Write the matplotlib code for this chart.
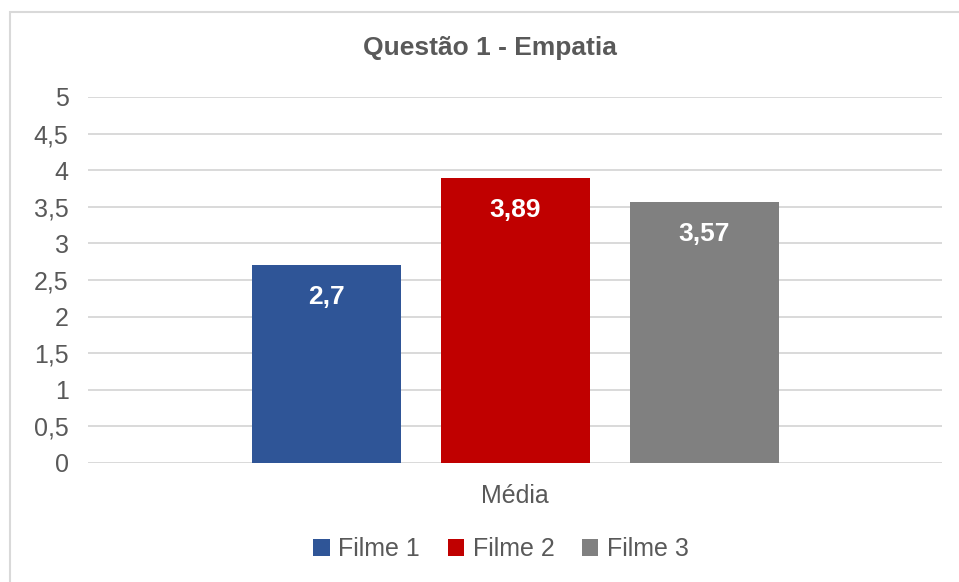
import matplotlib.pyplot as plt
from matplotlib.patches import Rectangle, Patch

plt.rcParams['font.family'] = ['Liberation Sans', 'DejaVu Sans']

# Data
series = ["Filme 1", "Filme 2", "Filme 3"]
values = [2.7, 3.89, 3.57]
value_labels = ["2,7", "3,89", "3,57"]
category = "Média"
yticks = [0, 0.5, 1, 1.5, 2, 2.5, 3, 3.5, 4, 4.5, 5]
ytick_labels = ["0", "0,5", "1", "1,5", "2", "2,5", "3", "3,5", "4", "4,5", "5"]
colors = ["#2F5597", "#C00000", "#808080"]

W, H = 959, 582
fig = plt.figure(figsize=(W / 100, H / 100), dpi=100)
ax = fig.add_axes([88 / W, 1 - 463 / H, (942 - 88) / W, (463 - 97) / H])

# Outer chart border (cut off on right and bottom)
fig.patches.append(Rectangle((10 / W, -0.1), 1.2, 0.1 + 1 - 12 / H,
                             transform=fig.transFigure, fill=False,
                             edgecolor="#d9d9d9", linewidth=1.5))

bar_w = 149 / 854
offset = 189 / 854
text_col = "#595959"

for i, (v, c, lab) in enumerate(zip(values, colors, value_labels)):
    x = (i - 1) * offset
    ax.bar(x, v, width=bar_w, color=c, zorder=3)
    ax.annotate(lab, (x, v), xytext=(0, -23), textcoords="offset points",
                ha="center", va="center", color="white",
                fontsize=19, fontweight="bold", zorder=4)

ax.set_xlim(-0.5, 0.5)
ax.set_ylim(0, 5)
ax.set_yticks(yticks)
ax.set_yticklabels(ytick_labels, fontsize=18, color=text_col)
ax.set_xticks([0])
ax.set_xticklabels([category], fontsize=18, color=text_col)
ax.tick_params(length=0)
ax.tick_params(axis="y", pad=14)
ax.tick_params(axis="x", pad=15)
ax.grid(axis="y", color="#d9d9d9", linewidth=1.4, zorder=0)
for s in ax.spines.values():
    s.set_visible(False)

fig.text(490 / W, 1 - 48 / H, "Questão 1 - Empatia", fontsize=19,
         fontweight="bold", color=text_col, ha="center", va="center")

handles = [Patch(facecolor=c) for c in colors]
fig.legend(handles, series, loc="center", bbox_to_anchor=(501 / W, 1 - 549 / H),
           ncol=3, frameon=False, fontsize=18, labelcolor=text_col,
           handlelength=0.65, handleheight=0.65, handletextpad=0.35,
           columnspacing=1.1)

fig.savefig("out.png", dpi=100, facecolor="white")
